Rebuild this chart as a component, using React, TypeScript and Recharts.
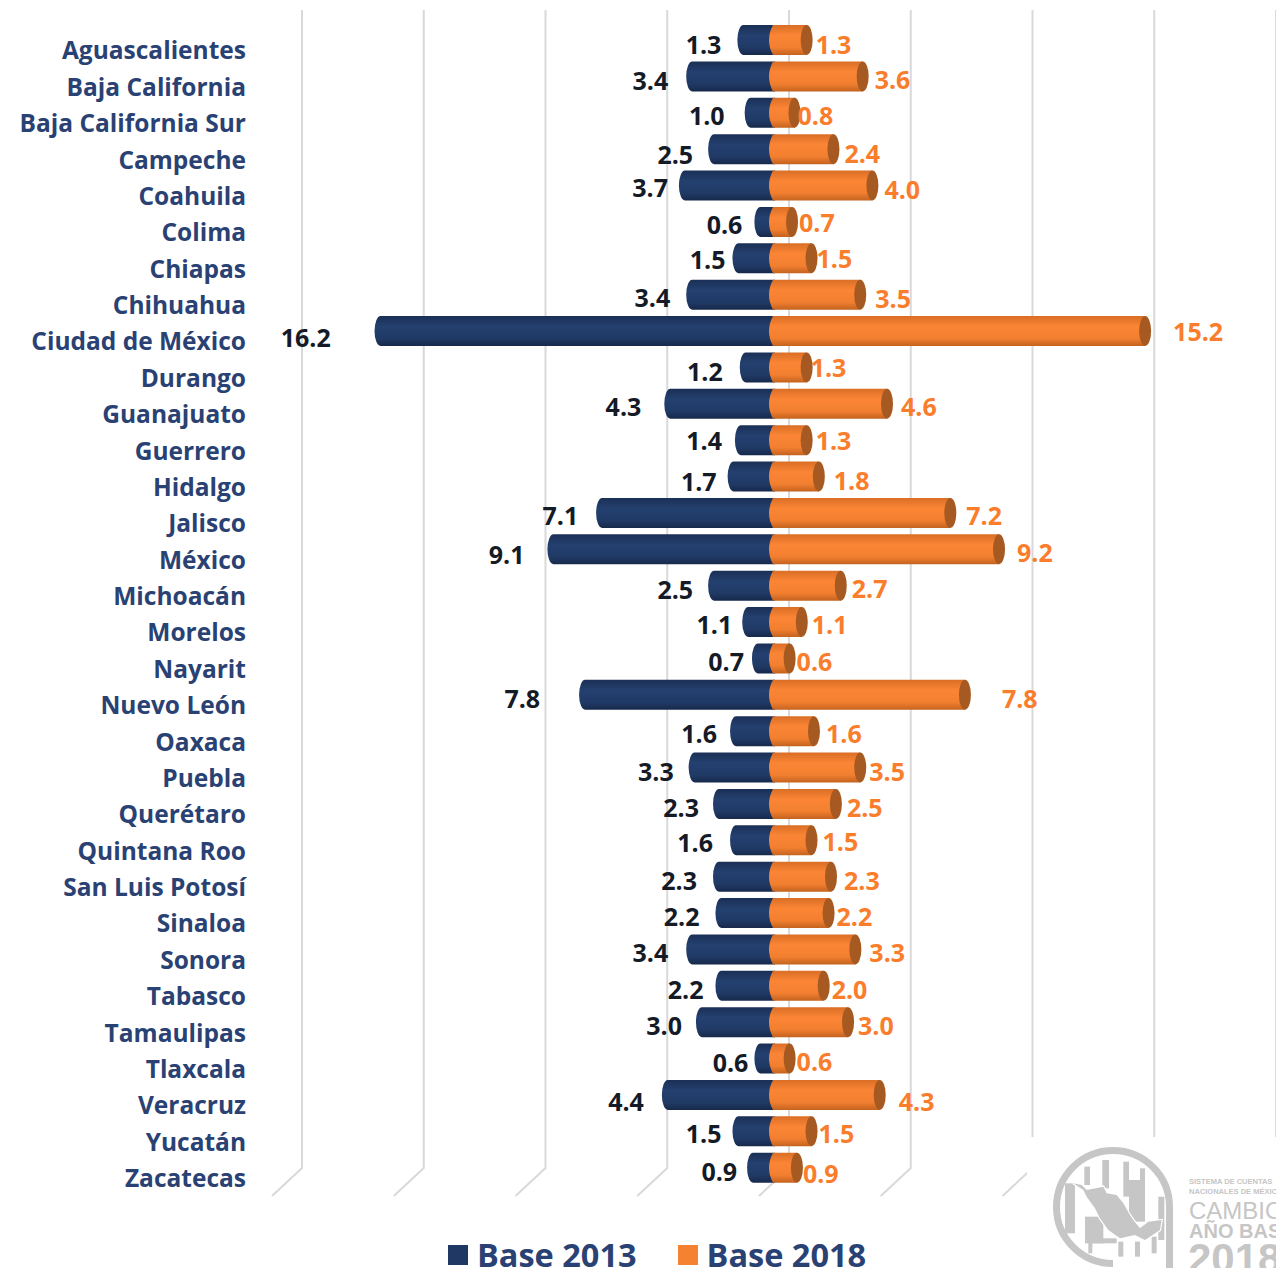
import { Bar, BarChart, CartesianGrid, LabelList, Legend, XAxis, YAxis } from "recharts";

const states = [
  "Aguascalientes", "Baja California", "Baja California Sur", "Campeche", "Coahuila", "Colima", "Chiapas", "Chihuahua",
  "Ciudad de México", "Durango", "Guanajuato", "Guerrero", "Hidalgo", "Jalisco", "México", "Michoacán", "Morelos",
  "Nayarit", "Nuevo León", "Oaxaca", "Puebla", "Querétaro", "Quintana Roo", "San Luis Potosí", "Sinaloa", "Sonora",
  "Tabasco", "Tamaulipas", "Tlaxcala", "Veracruz", "Yucatán", "Zacatecas",
];
const base2013 = [1.3, 3.4, 1.0, 2.5, 3.7, 0.6, 1.5, 3.4, 16.2, 1.2, 4.3, 1.4, 1.7, 7.1, 9.1, 2.5, 1.1, 0.7, 7.8, 1.6, 3.3, 2.3, 1.6, 2.3, 2.2, 3.4, 2.2, 3.0, 0.6, 4.4, 1.5, 0.9];
const base2018 = [1.3, 3.6, 0.8, 2.4, 4.0, 0.7, 1.5, 3.5, 15.2, 1.3, 4.6, 1.3, 1.8, 7.2, 9.2, 2.7, 1.1, 0.6, 7.8, 1.6, 3.5, 2.5, 1.5, 2.3, 2.2, 3.3, 2.0, 3.0, 0.6, 4.3, 1.5, 0.9];
const gridTicks = [-20, -15, -10, -5, 0, 5, 10, 15, 20];

// the data labels in the original sit at uneven distances from the bars
const gap2013 = [16, 18, 20, 15, 11, 12, 7, 16, 44, 17, 23, 13, 11, 18, 23, 15, 10, 8, 39, 13, 15, 14, 17, 16, 16, 18, 12, 14, 6, 18, 11, 10];
const gap2018 = [15, 18, 9, 17, 18, 13, 11, 21, 34, 10, 20, 15, 21, 22, 24, 17, 16, 13, 43, 18, 15, 17, 17, 19, 14, 20, 14, 16, 13, 25, 13, 12];
const drop2013 = [4, 4, 2, 5, 1, 2, 1, 2, 6, 4, 2, 0, 4, 2, 5, 3, 2, 3, 3, 2, 3, 3, 2, 3, 3, 3, 3, 3, 3, 6, 2, 3];
const drop2018 = [4, 3, 2, 4, 3, 0, 0, 3, 0, 0, 2, 0, 3, 2, 3, 2, 2, 3, 3, 2, 3, 3, 1, 3, 3, 3, 3, 3, 2, 6, 2, 5];

const rows = states.map((name, i) => ({ name, b2013: -base2013[i], b2018: base2018[i] }));

const NAVY = "#1f3864";
const ORANGE = "#f58231";
const TEXT_BLUE = "#2a4273";
const FONT = "'Open Sans', sans-serif";

function Gradients() {
  return (
    <defs>
      <linearGradient id="navyBar" x1="0" y1="0" x2="0" y2="1">
        <stop offset="0" stopColor="#1a2f55" />
        <stop offset="0.35" stopColor="#24406f" />
        <stop offset="0.75" stopColor="#203a66" />
        <stop offset="1" stopColor="#17294b" />
      </linearGradient>
      <linearGradient id="orangeBar" x1="0" y1="0" x2="0" y2="1">
        <stop offset="0" stopColor="#d96e26" />
        <stop offset="0.35" stopColor="#fb8535" />
        <stop offset="0.75" stopColor="#f27f30" />
        <stop offset="1" stopColor="#c4631f" />
      </linearGradient>
    </defs>
  );
}

function LeftCylinder(props: any) {
  const left = Math.min(props.x, props.x + props.width);
  const right = Math.max(props.x, props.x + props.width);
  const { y, height } = props;
  const rx = 6;
  const d = `M${right + 6} ${y} L${left + rx} ${y} A${rx} ${height / 2} 0 0 0 ${left + rx} ${y + height} L${right + 6} ${y + height} Z`;
  return <path d={d} fill="url(#navyBar)" />;
}

function RightCylinder(props: any) {
  const { x, y, width, height } = props;
  const rx = 6;
  const end = x + width + rx;
  const d = `M${x + 4} ${y} L${end} ${y} L${end} ${y + height} L${x + 4} ${y + height} Q${x - 4} ${y + height / 2} ${x + 4} ${y} Z`;
  return (
    <g>
      <path d={d} fill="url(#orangeBar)" />
      <ellipse cx={end} cy={y + height / 2} rx={rx} ry={height / 2} fill="#a65a22" />
    </g>
  );
}

function GridWall(props: any) {
  // 3D look: wall line shifted back, short floor line coming forward
  const { x1, y1, y2 } = props;
  const top = Math.min(y1, y2);
  const bottom = Math.max(y1, y2);
  return (
    <path
      key={x1}
      d={`M${x1 + 20} ${top - 12} L${x1 + 20} ${bottom - 18} L${x1 - 10} ${bottom + 10}`}
      fill="none"
      stroke="#d9d9d9"
      strokeWidth={2}
    />
  );
}

function LeftLabel(props: any) {
  const { x, y, height, index } = props;
  return (
    <text x={x - base2013[index] * 24.34 - gap2013[index]} y={y + height / 2 + drop2013[index]} textAnchor="end" dominantBaseline="central" fontFamily={FONT} fontSize={25} fontWeight={700} fill="#141a26">
      {base2013[index].toFixed(1)}
    </text>
  );
}

function RightLabel(props: any) {
  const { x, y, width, height, index } = props;
  return (
    <text x={x + width + gap2018[index]} y={y + height / 2 + drop2018[index]} textAnchor="start" dominantBaseline="central" fontFamily={FONT} fontSize={25} fontWeight={700} fill="#f97d2b">
      {base2018[index].toFixed(1)}
    </text>
  );
}

function LegendContent({ payload }: any) {
  return (
    <div style={{ display: "flex", alignItems: "center", fontFamily: FONT, fontWeight: 700, fontSize: 32.5, color: TEXT_BLUE, lineHeight: "24px", height: 24 }}>
      {(payload || []).map((item: any) => (
        <div key={item.value} style={{ display: "flex", alignItems: "center", marginRight: 41 }}>
          <span style={{ width: 20, height: 20, background: item.color, marginRight: 9, display: "inline-block" }} />
          {item.value}
        </div>
      ))}
    </div>
  );
}

// grey seal in the bottom right corner, covers the end of the grid
const sealBlocks = [
  [118, 80, 17, 55], [172, 60, 20, 85], [235, 65, 17, 105], [285, 85, 15, 40], [252, 120, 48, 125],
  [340, 170, 18, 130], [60, 130, 30, 150], [120, 230, 55, 80], [135, 295, 80, 15], [130, 300, 12, 40],
  [220, 305, 15, 45], [270, 305, 15, 45], [320, 290, 15, 50],
];

function Logo() {
  const grey = "#c6c6c6";
  return (
    <svg width={249} height={131} viewBox="1027 1137 249 131" style={{ position: "absolute", left: 1027, top: 1137 }}>
      <rect x={1027} y={1137} width={249} height={131} fill="#fff" />
      <path d="M1169.5 1268 L1169.5 1207 A56.5 56.5 0 1 0 1113 1263.5" fill="none" stroke={grey} strokeWidth={7} />
      <g transform="translate(1045 1140) scale(0.3333)">
        {sealBlocks.map(([x, y, w, h]) => (
          <rect key={`${x}-${y}`} x={x} y={y} width={w} height={h} fill={grey} />
        ))}
        <path
          d="M85 130L110 135L125 150L175 140L185 160L215 165L235 190L255 225L265 240L285 265L310 245L350 240L345 270L315 290L300 300L270 285L225 295L190 270L165 235L150 205L125 170L115 150Z"
          fill={grey}
          stroke="#fff"
          strokeWidth={7}
          paintOrder="stroke"
        />
        <path d="M95 145L115 185L145 225" fill="none" stroke="#fff" strokeWidth={5} />
      </g>
      <g fontFamily="'Liberation Sans', sans-serif" fill={grey}>
        <text x={1189} y={1184} fontSize={7.5} fontWeight={700}>SISTEMA DE CUENTAS</text>
        <text x={1189} y={1194} fontSize={7.5} fontWeight={700}>NACIONALES DE MÉXICO</text>
        <text x={1189} y={1219} fontSize={24}>CAMBIO DE</text>
        <text x={1189} y={1238} fontSize={20} fontWeight={700}>AÑO BASE</text>
        <text x={1188} y={1273} fontSize={42} fontWeight={700}>2018</text>
      </g>
    </svg>
  );
}

export default function App() {
  return (
    <div style={{ position: "absolute", left: 0, top: 0, width: 1276, height: 1268, background: "#fff", overflow: "hidden" }}>
      <BarChart
        width={1276}
        height={1268}
        data={rows}
        layout="vertical"
        stackOffset="sign"
        barSize={30}
        margin={{ top: 22, right: 20, bottom: 82, left: 0 }}
      >
        <Gradients />
        <CartesianGrid horizontal={false} vertical={GridWall} verticalValues={gridTicks} />
        <XAxis type="number" domain={[-20, 20]} ticks={gridTicks} hide />
        <YAxis
          type="category"
          dataKey="name"
          width={282}
          interval={0}
          axisLine={false}
          tickLine={false}
          tickSize={0}
          tickMargin={36}
          tick={{ fill: TEXT_BLUE, fontSize: 24.5, fontWeight: 700, fontFamily: FONT, dy: 10.5 }}
        />
        <Bar dataKey="b2013" name="Base 2013" stackId="a" fill={NAVY} shape={LeftCylinder} isAnimationActive={false}>
          <LabelList dataKey="b2013" content={LeftLabel} />
        </Bar>
        <Bar dataKey="b2018" name="Base 2018" stackId="a" fill={ORANGE} shape={RightCylinder} isAnimationActive={false}>
          <LabelList dataKey="b2018" content={RightLabel} />
        </Bar>
        <Legend
          layout="horizontal"
          verticalAlign="middle"
          align="center"
          content={LegendContent}
          wrapperStyle={{ left: 448, top: 1243, width: 470, height: 24 }}
        />
      </BarChart>
      <Logo />
    </div>
  );
}
